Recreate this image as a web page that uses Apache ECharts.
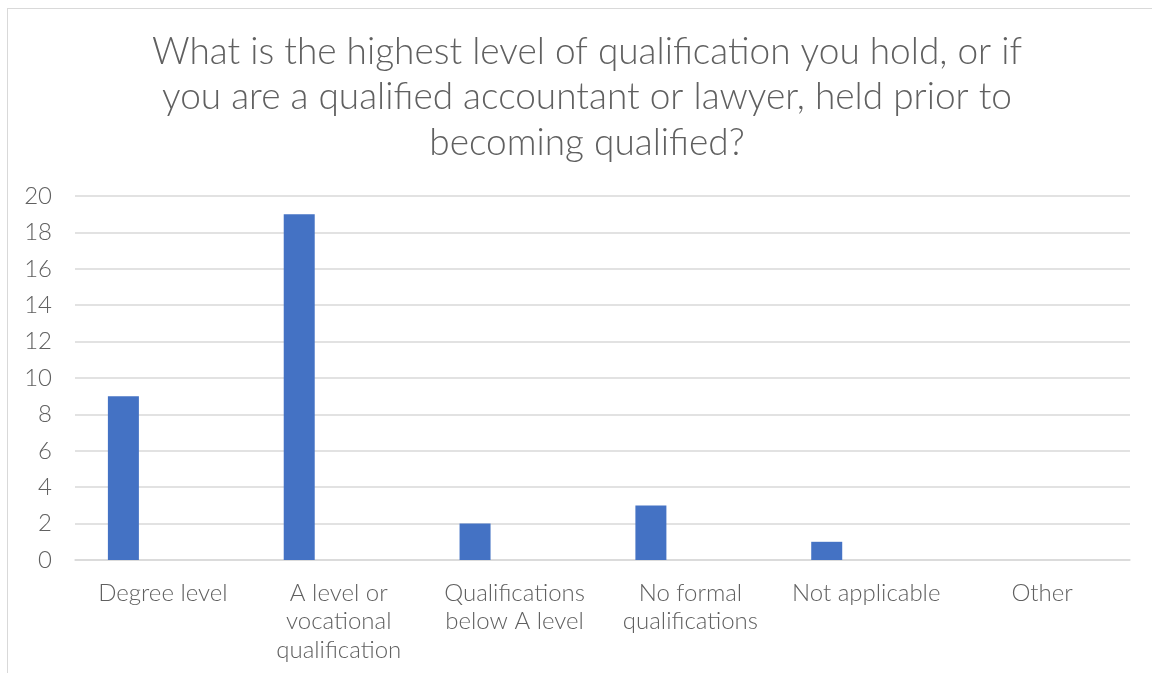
<!DOCTYPE html>
<html>
<head>
<meta charset="utf-8">
<script src="https://cdn.jsdelivr.net/npm/echarts@6/dist/echarts.min.js"></script>
<style>
  html, body { margin: 0; padding: 0; overflow: hidden; background: #fff; }
  #frame { position: absolute; left: 7px; top: 8px; width: 1170px; height: 700px; border: 1px solid #d9d9d9; }
  #chart { position: absolute; left: 0; top: 0; width: 1152px; height: 673px; }
</style>
</head>
<body>
<div id="frame"></div>
<div id="chart"></div>
<script>
// categories as shown under the x axis (line breaks as in the picture)
var categories = [
    'Degree level',
    'A level or\nvocational\nqualification',
    'Qualifications\nbelow A level',
    'No formal\nqualifications',
    'Not applicable',
    'Other'
];

// responses per qualification
var counts = [9, 19, 2, 3, 1, 0];

// second (empty) series of the original chart, which pushes the bars left
var blankSeries = [null, null, null, null, null, null];

var yTicks = { min: 0, max: 20, step: 2 };

var chartDom = document.getElementById('chart');
var myChart = echarts.init(chartDom);

var option = {
    animation: false,
    textStyle: { fontFamily: 'Lato' },
    title: {
        text: 'What is the highest level of qualification you hold, or if\nyou are a qualified accountant or lawyer, held prior to\nbecoming qualified?',
        left: 582,
        top: 24,
        textAlign: 'center',
        textStyle: {
            fontFamily: 'Lato',
            fontWeight: 300,
            fontSize: 37,
            lineHeight: 45.5,
            color: '#606060'
        }
    },
    grid: {
        left: 75,
        right: 22,
        top: 196,
        bottom: 113
    },
    xAxis: {
        type: 'category',
        data: categories,
        axisLine: { lineStyle: { color: '#d9d9d9', width: 1.5 } },
        axisTick: { show: false },
        axisLabel: {
            interval: 0,
            margin: 19,
            fontSize: 24,
            lineHeight: 28.5,
            color: '#606060',
            fontFamily: 'Lato',
            fontWeight: 300
        }
    },
    yAxis: {
        type: 'value',
        min: yTicks.min,
        max: yTicks.max,
        interval: yTicks.step,
        axisLine: { show: false },
        axisTick: { show: false },
        splitLine: { lineStyle: { color: '#d9d9d9', width: 1.5 } },
        axisLabel: {
            margin: 23,
            fontSize: 24,
            color: '#606060',
            fontFamily: 'Lato',
            fontWeight: 300
        }
    },
    series: [
        {
            name: 'Count',
            type: 'bar',
            data: counts,
            barWidth: 31,
            barGap: '155%',
            itemStyle: { color: '#4472c4' }
        },
        {
            name: 'Blank',
            type: 'bar',
            data: blankSeries,
            barWidth: 31,
            itemStyle: { color: '#ed7d31' }
        }
    ]
};

myChart.setOption(option);
</script>
</body>
</html>
